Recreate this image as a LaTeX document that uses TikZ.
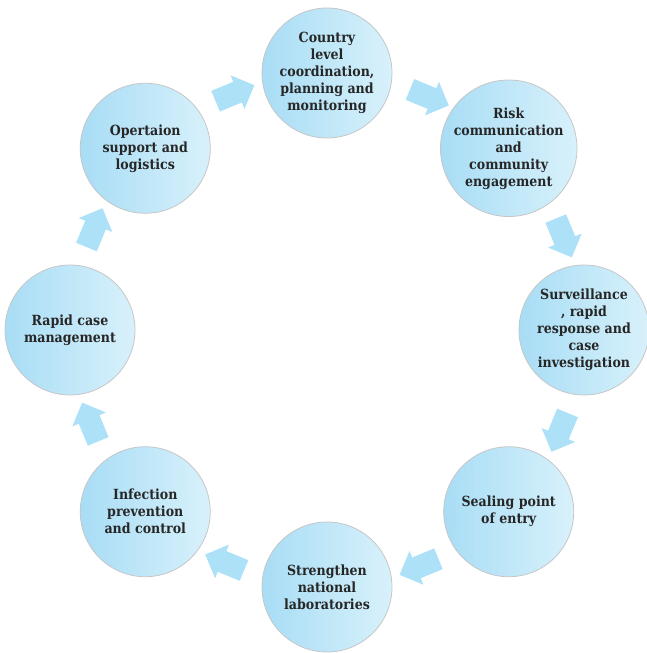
\documentclass[tikz,border=0pt]{standalone}
\usepackage{fontspec}
\setmainfont{DejaVu Serif}[FakeStretch=0.9]
\usepackage{tikz}
\usepackage{xcolor}
\usetikzlibrary{shapes.arrows, positioning, calc}

\definecolor{ringblue}{HTML}{A8DDF5}
\definecolor{ringlight}{HTML}{D8F1FB}
\definecolor{flowblue}{HTML}{ADE1F8}
\definecolor{textdark}{HTML}{262626}

\begin{document}
\begin{tikzpicture}[x=1pt, y=1pt,
  stage/.style={circle, draw=gray!45, line width=0.8pt, left color=ringblue, right color=ringlight,
    minimum size=130pt, inner sep=0pt, align=center, text=textdark,
    font=\fontsize{14}{17}\selectfont\bfseries},
  flow/.style={single arrow, fill=flowblue, draw=none, minimum width=0pt,
    single arrow head extend=7pt, minimum height=42pt, inner xsep=0pt, inner ysep=11pt}]
\useasboundingbox (-327,-323) rectangle (319,330);

% Outer ring - stages, clockwise from the top
\node[stage] (country) at (90:257) {Country\\level\\coordination,\\planning and\\monitoring};
\node[stage] (risk) at (45:257) {Risk\\communication\\and\\community\\engagement};
\node[stage] (surv) at (0:257) {Surveillance\\, rapid\\response and\\case\\investigation};
\node[stage] (sealing) at (-45:257) {Sealing point\\of entry};
\node[stage] (labs) at (-90:257) {Strengthen\\national\\laboratories};
\node[stage] (ipc) at (-135:257) {Infection\\prevention\\and control};
\node[stage] (casemgmt) at (180:257) {Rapid case\\management};
\node[stage] (ops) at (135:257) {Opertaion\\support and\\logistics};

% Block arrows between stages
\node[flow, rotate=-22.5] (country-risk) at (67.5:254) {};
\node[flow, rotate=-67.5] (risk-surv) at (22.5:254) {};
\node[flow, rotate=-112.5] (surv-sealing) at (-22.5:254) {};
\node[flow, rotate=-157.5] (sealing-labs) at (-67.5:254) {};
\node[flow, rotate=157.5] (labs-ipc) at (-112.5:254) {};
\node[flow, rotate=112.5] (ipc-casemgmt) at (-157.5:254) {};
\node[flow, rotate=67.5] (casemgmt-ops) at (157.5:254) {};
\node[flow, rotate=22.5] (ops-country) at (112.5:254) {};
\end{tikzpicture}
\end{document}
